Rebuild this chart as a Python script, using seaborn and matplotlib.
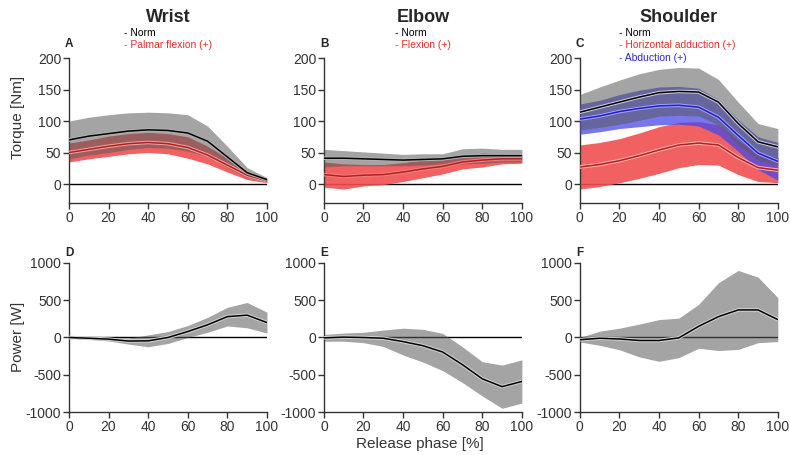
import numpy as np
import pandas as pd
import matplotlib
matplotlib.use('Agg')
import matplotlib.pyplot as plt
import matplotlib.patheffects as pe
import seaborn as sns

# release phase [%]
pct = [0, 10, 20, 30, 40, 50, 60, 70, 80, 90, 100]

# Wrist torque
wrist_norm_mean = [70, 76, 80, 84, 86, 85, 81, 68, 43, 18, 7]
wrist_norm_sd = [30, 30, 30, 29, 28, 28, 29, 24, 17, 8, 3]
wrist_flex_mean = [50, 55, 60, 64, 66, 64, 58, 46, 30, 14, 5]
wrist_flex_sd = [15, 15, 16, 16, 16, 16, 17, 14, 11, 7, 3]

# Elbow torque
elbow_norm_mean = [41, 41, 40, 39, 38, 39, 40, 44, 45, 45, 45]
elbow_norm_sd = [14, 12, 11, 10, 9, 9, 8, 12, 12, 10, 10]
elbow_flex_mean = [15, 12, 14, 15, 19, 24, 28, 35, 38, 40, 40]
elbow_flex_sd = [20, 20, 17, 16, 15, 14, 12, 11, 11, 8, 7]

# Shoulder torque
shoulder_norm_mean = [114, 122, 130, 138, 145, 147, 146, 130, 96, 67, 59]
shoulder_norm_sd = [28, 32, 35, 37, 37, 38, 38, 36, 34, 29, 29]
shoulder_hadd_mean = [27, 31, 37, 45, 54, 62, 65, 62, 42, 26, 22]
shoulder_hadd_sd = [35, 35, 35, 36, 37, 36, 34, 32, 27, 22, 20]
shoulder_abd_mean = [103, 108, 115, 120, 124, 125, 122, 106, 77, 49, 36]
shoulder_abd_sd = [24, 25, 27, 29, 30, 30, 30, 28, 25, 26, 30]

# Power
wrist_pow_mean = [0, -10, -22, -48, -45, 0, 80, 170, 280, 300, 200]
wrist_pow_sd = [10, 15, 25, 40, 80, 80, 80, 100, 125, 170, 140]
elbow_pow_mean = [-5, 5, 0, -10, -55, -110, -195, -365, -555, -660, -590]
elbow_pow_sd = [45, 55, 70, 110, 180, 220, 250, 240, 230, 290, 290]
shoulder_pow_mean = [-30, -10, -20, -40, -40, -5, 150, 280, 370, 370, 240]
shoulder_pow_sd = [30, 95, 145, 220, 280, 265, 295, 455, 530, 440, 295]

titles = ['Wrist', 'Elbow', 'Shoulder']
letters = ['A', 'B', 'C', 'D', 'E', 'F']
legends = [
    [('- Norm', 'black'), ('- Palmar flexion (+)', '#e0302c')],
    [('- Norm', 'black'), ('- Flexion (+)', '#e0302c')],
    [('- Norm', 'black'), ('- Horizontal adduction (+)', '#e0302c'), ('- Abduction (+)', '#2a2ad0')],
]

sns.set_style('ticks')
plt.rcParams['font.family'] = ['Liberation Sans', 'DejaVu Sans']
plt.rcParams['axes.unicode_minus'] = False

GRAY = '#5a5a5a'
RED = '#f05050'
BLUE = '#4848e8'

fig = plt.figure(figsize=(7.9, 4.55), dpi=100)
lefts = [0.0873, 0.410, 0.734]
w = 0.2506
top_axes = [fig.add_axes([l, 0.554, w, 0.3185]) for l in lefts]
bot_axes = [fig.add_axes([l, 0.0945, w, 0.3275]) for l in lefts]

x = np.array(pct)


def band(ax, mean, sd, color, alpha, z):
    m = np.array(mean)
    s = np.array(sd)
    ax.fill_between(x, m - s, m + s, color=color, alpha=alpha, lw=0, zorder=z)


def mean_line(ax, mean, color, halo):
    sns.lineplot(x=x, y=mean, ax=ax, color=color, lw=1.1, zorder=10,
                 path_effects=[pe.Stroke(linewidth=2.6, foreground=halo), pe.Normal()])


# torque panels
ax = top_axes[0]
band(ax, wrist_flex_mean, wrist_flex_sd, RED, 0.9, 2)
band(ax, wrist_norm_mean, wrist_norm_sd, GRAY, 0.55, 3)
mean_line(ax, wrist_flex_mean, '#b02020', '#f0a0a0')
mean_line(ax, wrist_norm_mean, 'black', '#b0b0b0')

ax = top_axes[1]
band(ax, elbow_flex_mean, elbow_flex_sd, RED, 0.9, 2)
band(ax, elbow_norm_mean, elbow_norm_sd, GRAY, 0.55, 3)
mean_line(ax, elbow_flex_mean, '#b02020', '#f08080')
mean_line(ax, elbow_norm_mean, 'black', '#b0b0b0')

ax = top_axes[2]
band(ax, shoulder_hadd_mean, shoulder_hadd_sd, RED, 0.9, 2)
band(ax, shoulder_abd_mean, shoulder_abd_sd, BLUE, 0.75, 3)
band(ax, shoulder_norm_mean, shoulder_norm_sd, GRAY, 0.55, 4)
mean_line(ax, shoulder_hadd_mean, '#b02020', '#f8b0b0')
mean_line(ax, shoulder_abd_mean, '#2020c0', '#a0a0ff')
mean_line(ax, shoulder_norm_mean, 'black', '#c8c8e0')

leg_x = [0.28, 0.36, 0.197]
for i, ax in enumerate(top_axes):
    ax.set_ylim(-30, 200)
    ax.set_yticks([0, 50, 100, 150, 200])
    ax.set_title(titles[i], fontsize=13, fontweight='bold', pad=26)
    for j, (txt, c) in enumerate(legends[i]):
        ax.text(leg_x[i], 1.175 - j * 0.088, txt, transform=ax.transAxes,
                fontsize=7.5, color=c, va='center')

# power panels
pow_data = [(wrist_pow_mean, wrist_pow_sd), (elbow_pow_mean, elbow_pow_sd),
            (shoulder_pow_mean, shoulder_pow_sd)]
for ax, (m, s) in zip(bot_axes, pow_data):
    band(ax, m, s, GRAY, 0.55, 2)
    mean_line(ax, m, 'black', '#d0d0d0')
    ax.set_ylim(-1000, 1000)
    ax.set_yticks([-1000, -500, 0, 500, 1000])

for i, ax in enumerate(top_axes + bot_axes):
    ax.axhline(0, color='black', lw=1.0, zorder=1)
    ax.set_xlim(0, 100)
    ax.set_xticks([0, 20, 40, 60, 80, 100])
    ax.set_xlabel('')
    ax.set_ylabel('')
    ax.margins(x=0)
    sns.despine(ax=ax)
    for sp in ax.spines.values():
        sp.set_color('#333333')
        sp.set_linewidth(1.0)
    ax.tick_params(labelsize=10, colors='#333333', length=4, width=1.0, pad=1.5)
    ax.text(-0.02, 1.1 if i < 3 else 1.07, letters[i], transform=ax.transAxes,
            fontsize=8.5, fontweight='bold', ha='left', va='center')

fig.text(0.023, 1 - 117 / 455, 'Torque [Nm]', rotation=90, fontsize=11,
         color='#333333', ha='center', va='center')
fig.text(0.023, 1 - 337 / 455, 'Power [W]', rotation=90, fontsize=11,
         color='#333333', ha='center', va='center')
fig.text(420 / 790, 1 - 444 / 455, 'Release phase [%]', fontsize=11,
         color='#333333', ha='center', va='center')

fig.savefig('out.png', dpi=100)
